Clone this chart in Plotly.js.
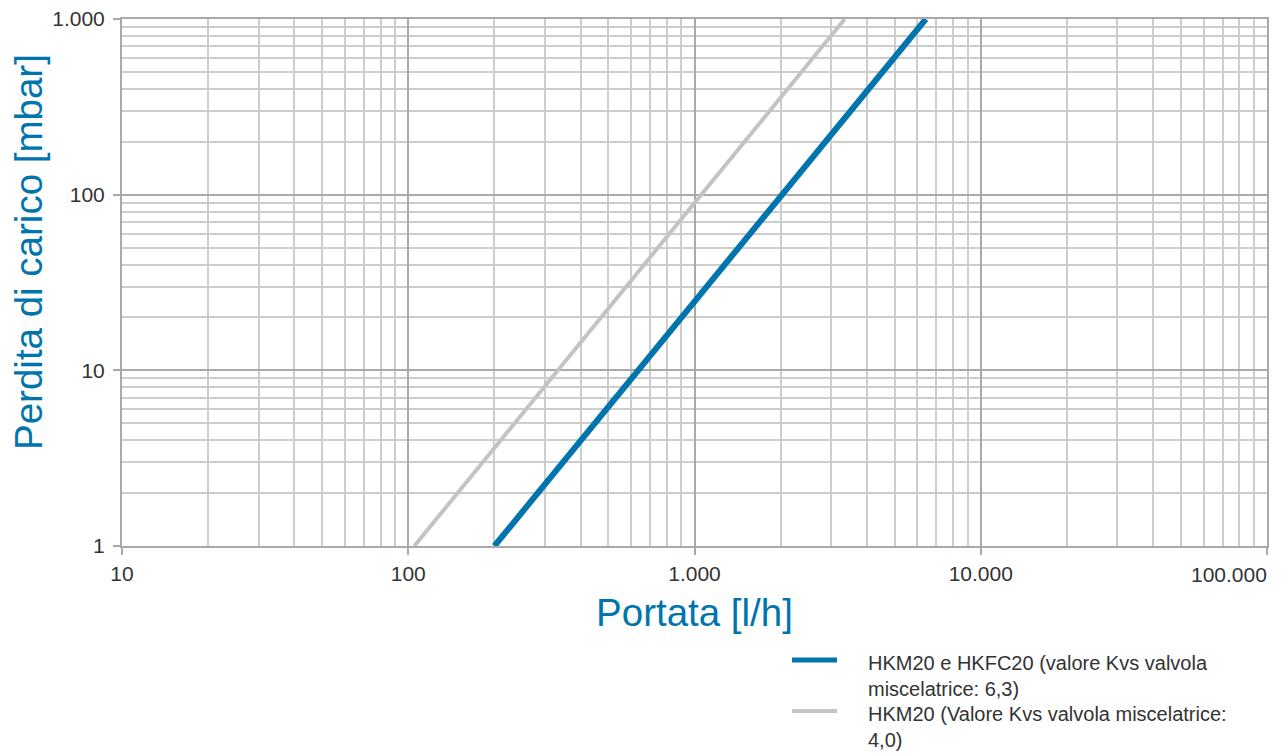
<!DOCTYPE html>
<html>
<head>
<meta charset="utf-8">
<script src="https://cdn.plot.ly/plotly-3.0.1.min.js"></script>
<style>html,body{margin:0;padding:0;background:#fff;}#chart{width:1284px;height:753px;}</style>
</head>
<body>
<div id="chart"></div>
<script>
// Data (flow l/h vs pressure loss mbar)
const seriesNames = [
  "HKM20 e HKFC20 (valore Kvs valvola<br>miscelatrice: 6,3)",
  "HKM20 (Valore Kvs valvola miscelatrice:<br>4,0)"
];
const blueFlow = [200, 6430];
const blueLoss = [1, 1000];
const grayFlow = [105, 3350];
const grayLoss = [1, 1000];

const xTickVals = [10, 100, 1000, 10000, 100000];
const xTickText = ["10", "100", "1.000", "10.000", "100.000"];
const yTickVals = [1, 10, 100, 1000];
const yTickText = ["1", "10", "100", "1.000"];
const xTitle = "Portata [l/h]";
const yTitle = "Perdita di carico [mbar]";

function minorVals(lo, hi) {
  const v = [];
  for (let d = lo; d < hi; d *= 10) for (let k = 2; k <= 9; k++) v.push(d * k);
  return v;
}

const BLUE = "#0075ad";
const GRAY_LINE = "#c3c3c3";
const MAJOR = "#a9a9a9";
const MINOR = "#cdcdcd";
const TXT = "#333333";
const FONT = '"Liberation Sans", Arial, Helvetica, sans-serif';

const traces = [
  { x: blueFlow, y: blueLoss, mode: "lines", name: seriesNames[0],
    line: { color: BLUE, width: 6 } },
  { x: grayFlow, y: grayLoss, mode: "lines", name: seriesNames[1],
    line: { color: GRAY_LINE, width: 4 } }
];

// last x tick label is right-aligned to its tick in the reference
const lastIdx = xTickVals.length - 1;
const xTickTextShown = xTickText.map((t, i) => i === lastIdx ? "" : t);

const axisCommon = {
  type: "log", automargin: false,
  showline: true, mirror: true, linecolor: MAJOR, linewidth: 2,
  showgrid: true, gridcolor: MAJOR, gridwidth: 2,
  ticks: "outside", ticklen: 7, tickwidth: 2, tickcolor: MAJOR,
  tickmode: "array", zeroline: false,
  tickfont: { family: FONT, size: 21, color: TXT }
};

const W = 1284, H = 753;
const PL = 122, PR = 1267, PT = 19, PB = 546;
const px2x = p => (p - PL) / (PR - PL);
const px2y = p => (PB - p) / (PB - PT);

// manual legend (sample line + text) to match the reference spacing
const legendRows = [
  { y: 660, textTop: 650, color: BLUE, width: 5, text: seriesNames[0] },
  { y: 711, textTop: 701, color: GRAY_LINE, width: 4, text: seriesNames[1] }
];
const shapes = legendRows.map(r => ({
  type: "line", xref: "paper", yref: "paper",
  x0: px2x(792), x1: px2x(837), y0: px2y(r.y), y1: px2y(r.y),
  line: { color: r.color, width: r.width }
}));
const annotations = legendRows.map(r => ({
  xref: "paper", yref: "paper",
  x: px2x(866), y: px2y(r.textTop),
  xanchor: "left", yanchor: "top", align: "left",
  text: r.text, showarrow: false,
  font: { family: FONT, size: 20, color: TXT }
}));
annotations.push({
  xref: "x", yref: "paper", x: Math.log10(xTickVals[lastIdx]), y: 0,
  xanchor: "right", yanchor: "top", yshift: -15, xshift: 2,
  text: xTickText[lastIdx], showarrow: false,
  font: { family: FONT, size: 21, color: TXT }
});
// y-axis title (placed above centre, as in the reference)
annotations.push({
  xref: "paper", yref: "paper", x: px2x(28), y: px2y(252),
  xanchor: "center", yanchor: "middle", textangle: -90,
  text: yTitle, showarrow: false,
  font: { family: FONT, size: 38.5, color: BLUE }
});

const layout = {
  width: W, height: H,
  margin: { l: PL, r: W - PR, t: PT, b: H - PB },
  paper_bgcolor: "#ffffff", plot_bgcolor: "#ffffff",
  font: { family: FONT, color: TXT },
  showlegend: false,
  shapes: shapes,
  annotations: annotations,
  xaxis: Object.assign({}, axisCommon, {
    range: [1, 5],
    tickvals: xTickVals, ticktext: xTickTextShown, ticklabelstandoff: 1,
    minor: { tickvals: minorVals(10, 100000), showgrid: true, gridcolor: MINOR, gridwidth: 2, ticks: "" },
    title: { text: xTitle, font: { family: FONT, size: 38.5, color: BLUE }, standoff: 15 }
  }),
  yaxis: Object.assign({}, axisCommon, {
    range: [0, 3],
    tickvals: yTickVals, ticktext: yTickText, ticklabelstandoff: 4,
    minor: { tickvals: minorVals(1, 1000), showgrid: true, gridcolor: MINOR, gridwidth: 2, ticks: "" }
  })
};

Plotly.newPlot("chart", traces, layout, { displayModeBar: false, staticPlot: true });
</script>
</body>
</html>
